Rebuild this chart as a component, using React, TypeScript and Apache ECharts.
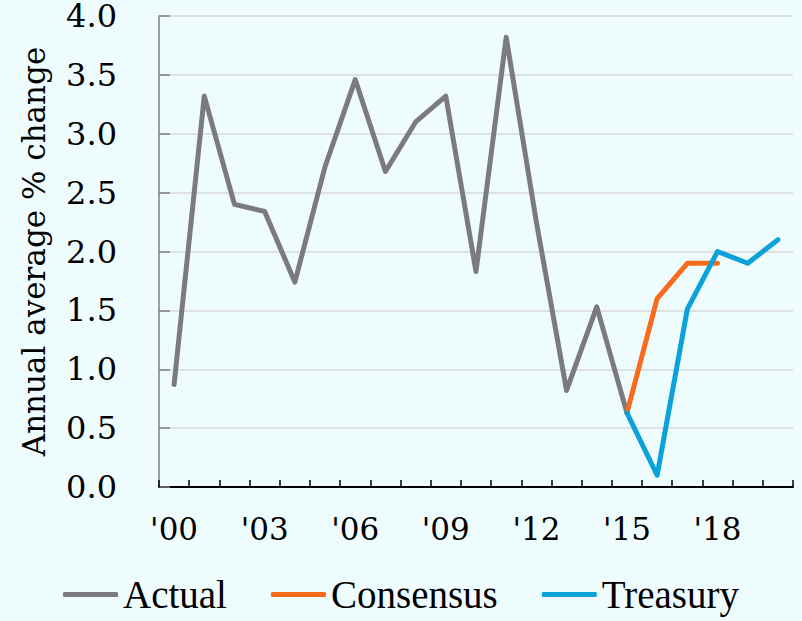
import React, { useEffect, useRef } from "react";
import * as echarts from "echarts";

const years = [
  "2000", "2001", "2002", "2003", "2004", "2005", "2006", "2007", "2008", "2009", "2010",
  "2011", "2012", "2013", "2014", "2015", "2016", "2017", "2018", "2019", "2020",
];
const actual = [0.87, 3.32, 2.4, 2.34, 1.74, 2.72, 3.46, 2.68, 3.1, 3.32, 1.83, 3.82, 2.25, 0.82, 1.53, 0.63, null, null, null, null, null];
const consensus = [null, null, null, null, null, null, null, null, null, null, null, null, null, null, null, 0.63, 1.6, 1.9, 1.9, null, null];
const treasury = [null, null, null, null, null, null, null, null, null, null, null, null, null, null, null, 0.63, 0.1, 1.51, 2.0, 1.9, 2.1];
const seriesNames = ["Actual", "Consensus", "Treasury"];
const colors = ["#7B7B7E", "#F96B1C", "#0AA2D8"];

const css = `
.chart-host svg text { font-family: "DejaVu Serif", serif !important; }
.chart-host svg text[style*="39px"] { font-family: "Liberation Serif", serif !important; }
`;

export default function App() {
  const ref = useRef<HTMLDivElement>(null);
  useEffect(() => {
    const chart = echarts.init(ref.current!, null, { renderer: "svg" });
    const mk = (name: string, data: (number | null)[], color: string) => ({
      name,
      type: "line",
      data,
      showSymbol: false,
      symbol: "none",
      connectNulls: false,
      lineStyle: { width: 5, color, cap: "round", join: "round" },
      itemStyle: { color },
    });
    chart.setOption({
      animation: false,
      backgroundColor: "#EFFCFD",
      textStyle: { fontFamily: "DejaVu Serif" },
      grid: { left: 159, right: 9, top: 15, bottom: 134, containLabel: false },
      legend: {
        bottom: 2,
        left: "center",
        itemWidth: 55,
        itemHeight: 5,
        itemGap: 44,
        icon: "roundRect",
        textStyle: { fontFamily: "Liberation Serif", fontSize: 39, color: "#000" },
        data: seriesNames.map((n, i) => ({ name: n, itemStyle: { color: colors[i] } })),
      },
      xAxis: {
        type: "category",
        data: years,
        boundaryGap: true,
        axisLine: { lineStyle: { color: "#000", width: 2 } },
        axisTick: { show: true, inside: true, length: 7, interval: 0, lineStyle: { color: "#000", width: 1.5 } },
        axisLabel: {
          interval: 2,
          margin: 26,
          fontFamily: "DejaVu Serif",
          fontSize: 31,
          color: "#000",
          formatter: (v: string) => "'" + v.slice(2),
        },
        splitLine: { show: false },
      },
      yAxis: {
        type: "value",
        min: 0,
        max: 4,
        interval: 0.5,
        name: "Annual average % change",
        nameLocation: "middle",
        nameGap: 110,
        nameTextStyle: { fontFamily: "DejaVu Serif", fontSize: 31, color: "#000" },
        axisLine: { show: true, lineStyle: { color: "#7F7F7F", width: 1.5 } },
        axisTick: { show: true, inside: true, length: 11, lineStyle: { color: "#7F7F7F", width: 1.5 } },
        axisLabel: {
          margin: 42,
          fontFamily: "DejaVu Serif",
          fontSize: 32,
          color: "#000",
          formatter: (v: number) => v.toFixed(1),
        },
        splitLine: { lineStyle: { color: "#D9D9D9", width: 1.5 } },
      },
      series: [mk("Actual", actual, colors[0]), mk("Consensus", consensus, colors[1]), mk("Treasury", treasury, colors[2])],
    });
    return () => chart.dispose();
  }, []);
  return (
    <>
      <style>{css}</style>
      <div className="chart-host" ref={ref} style={{ width: 802, height: 621, position: "absolute", left: 0, top: 0 }} />
    </>
  );
}
